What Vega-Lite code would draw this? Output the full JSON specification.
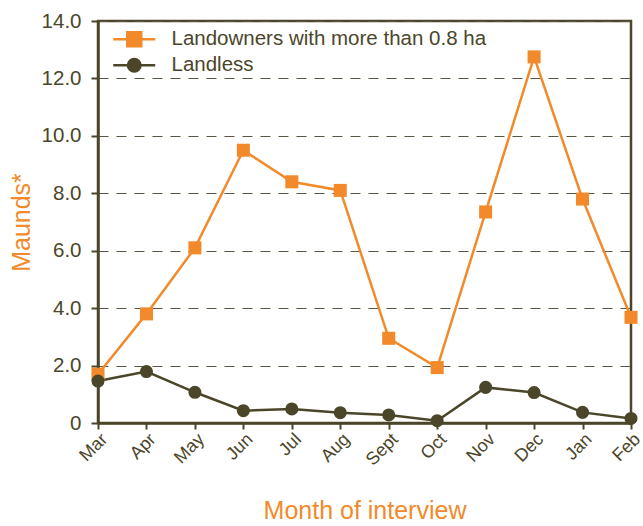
{
  "$schema": "https://vega.github.io/schema/vega-lite/v6.json",
  "width": 533,
  "height": 402,
  "autosize": "none",
  "padding": {"left": 98, "top": 21, "right": 12, "bottom": 103},
  "background": "white",
  "config": {
    "font": "Liberation Sans",
    "view": {"stroke": "#4B4629", "strokeWidth": 2.5},
    "axis": {"labelColor": "#4B4629", "domainColor": "#4B4629", "tickColor": "#4B4629", "labelFont": "Liberation Sans", "titleFont": "Liberation Sans", "titleFontWeight": "normal"}
  },
  "data": {
    "values": [
      {"month": "Mar", "series": "Landowners with more than 0.8 ha", "value": 1.7},
      {"month": "Apr", "series": "Landowners with more than 0.8 ha", "value": 3.8},
      {"month": "May", "series": "Landowners with more than 0.8 ha", "value": 6.1},
      {"month": "Jun", "series": "Landowners with more than 0.8 ha", "value": 9.5},
      {"month": "Jul", "series": "Landowners with more than 0.8 ha", "value": 8.4},
      {"month": "Aug", "series": "Landowners with more than 0.8 ha", "value": 8.1},
      {"month": "Sept", "series": "Landowners with more than 0.8 ha", "value": 2.95},
      {"month": "Oct", "series": "Landowners with more than 0.8 ha", "value": 1.93},
      {"month": "Nov", "series": "Landowners with more than 0.8 ha", "value": 7.35},
      {"month": "Dec", "series": "Landowners with more than 0.8 ha", "value": 12.75},
      {"month": "Jan", "series": "Landowners with more than 0.8 ha", "value": 7.8},
      {"month": "Feb", "series": "Landowners with more than 0.8 ha", "value": 3.68},
      {"month": "Mar", "series": "Landless", "value": 1.46},
      {"month": "Apr", "series": "Landless", "value": 1.79},
      {"month": "May", "series": "Landless", "value": 1.07},
      {"month": "Jun", "series": "Landless", "value": 0.43},
      {"month": "Jul", "series": "Landless", "value": 0.49},
      {"month": "Aug", "series": "Landless", "value": 0.36},
      {"month": "Sept", "series": "Landless", "value": 0.28},
      {"month": "Oct", "series": "Landless", "value": 0.08},
      {"month": "Nov", "series": "Landless", "value": 1.24},
      {"month": "Dec", "series": "Landless", "value": 1.06},
      {"month": "Jan", "series": "Landless", "value": 0.37},
      {"month": "Feb", "series": "Landless", "value": 0.16}
    ]
  },
  "encoding": {
    "x": {
      "field": "month", "type": "ordinal", "sort": null,
      "scale": {"type": "point", "padding": 0},
      "axis": {
        "title": "Month of interview", "titleColor": "#F28A2B", "titleFontSize": 25, "titlePadding": 30,
        "labelAngle": -45, "labelFontSize": 18, "labelPadding": 1,
        "domainWidth": 2.5, "tickWidth": 2, "tickSize": 6, "grid": false
      }
    },
    "y": {
      "field": "value", "type": "quantitative",
      "scale": {"domain": [0, 14], "nice": false},
      "axis": {
        "title": "Maunds*", "titleColor": "#F28A2B", "titleFontSize": 25, "titlePadding": 7,
        "values": [0, 2, 4, 6, 8, 10, 12, 14],
        "labelExpr": "datum.value == 0 ? '0' : format(datum.value, '.1f')",
        "labelFontSize": 20.5, "labelPadding": 10,
        "domainWidth": 2.5, "tickWidth": 2, "tickSize": 7,
        "grid": true, "gridDash": [10, 8], "gridColor": "#5A5545", "gridWidth": 1.2
      }
    }
  },
  "layer": [
    {
      "mark": {"type": "line", "strokeWidth": 2.5},
      "encoding": {
        "color": {"field": "series", "type": "nominal", "scale": {"domain": ["Landowners with more than 0.8 ha", "Landless"], "range": ["#F28A2B", "#4B4629"]},
          "legend": {"title": null, "orient": "none", "legendX": 26, "legendY": 8, "labelFontSize": 20.5, "labelColor": "#4B4629", "labelFont": "Liberation Sans", "labelLimit": 500, "symbolSize": 196, "symbolStrokeWidth": 2.5, "labelOffset": 27, "rowPadding": 1,
            "encode": {"symbols": {"update": {
              "shape": {"signal": "datum.value == 'Landless' ? 'M-3,0H3M0.9,0A0.9,0.9,0,1,1,-0.9,0A0.9,0.9,0,1,1,0.9,0Z' : 'M-3,0H3M-1,-1H1V1H-1Z'"},
              "fill": {"signal": "datum.value == 'Landless' ? '#4B4629' : '#F28A2B'"},
              "stroke": {"signal": "datum.value == 'Landless' ? '#4B4629' : '#F28A2B'"},
              "strokeWidth": {"value": 2.5},
              "opacity": {"value": 1}
            }}}}}
      }
    },
    {
      "transform": [{"filter": "datum.series != 'Landless'"}],
      "mark": {"type": "point", "filled": true, "opacity": 1, "size": 170, "shape": "square", "color": "#F28A2B"},
      "encoding": {}
    },
    {
      "transform": [{"filter": "datum.series == 'Landless'"}],
      "mark": {"type": "point", "filled": true, "opacity": 1, "size": 170, "shape": "circle", "color": "#4B4629"},
      "encoding": {}
    }
  ]
}
